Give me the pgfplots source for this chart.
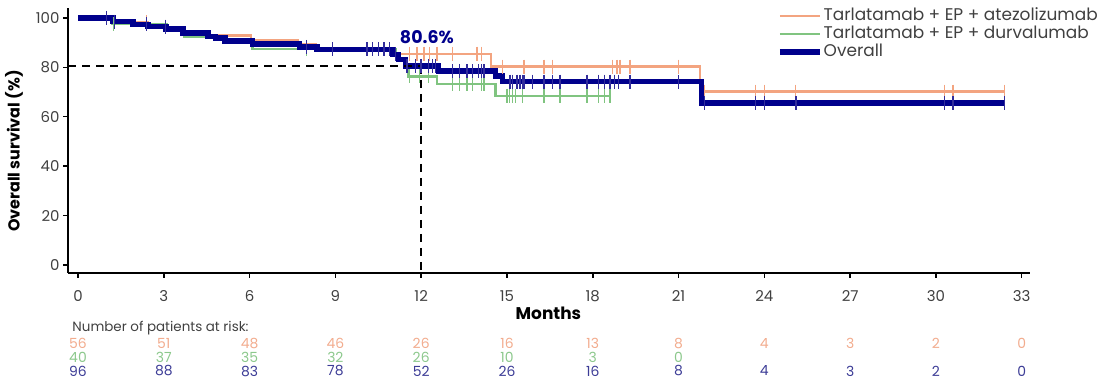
\documentclass[border=0pt]{standalone}
\usepackage{pgfplots}
\pgfplotsset{compat=1.18}
\usepackage{fontspec}
\setmainfont{Poppins}
\newfontfamily\legfont{Poppins}
\definecolor{cO}{RGB}{243,164,128}
\definecolor{cG}{RGB}{128,196,128}
\definecolor{cB}{RGB}{0,0,140}
\definecolor{cBt}{RGB}{50,45,155}
\definecolor{rO}{RGB}{242,172,142}
\definecolor{rG}{RGB}{140,200,140}
\definecolor{rB}{RGB}{60,60,150}
\definecolor{tk}{RGB}{64,64,64}
\begin{document}
\begin{tikzpicture}
\useasboundingbox (0,0) rectangle (1100bp,381bp);
\begin{axis}[
  at={(68bp,108bp)}, anchor=south west,
  scale only axis, width=962bp, height=265bp,
  xmin=-0.35, xmax=33.29, ymin=-3.24, ymax=104,
  axis x line=bottom, axis y line=left,
  axis line style={line width=1.8bp,-},
  xtick={0,3,...,33}, ytick={0,20,...,100},
  tick align=outside, major tick length=5bp,
  tick style={line width=1.5bp,black},
  ticklabel style={font=\fontsize{15}{15}\selectfont, text=tk},
  xticklabel style={yshift=-9bp},
  /pgf/number format/assume math mode=true,
  clip=false,
  legend style={at={(rel axis cs:0.737,1.004)}, anchor=north west, draw=none, fill=none,
    inner sep=0pt, font=\legfont\fontsize{17}{18}\selectfont, text=tk, row sep=0bp,
    nodes={inner sep=1bp, text height=12bp, text depth=4bp}},
  legend cell align=left,
  legend image code/.code={\draw[#1] (0bp,0bp) -- (40bp,0bp);},
]
% orange
\addplot[const plot, color=cO, line width=2.3bp] coordinates {
(0,100) (1.2,98.2) (2.45,96.4) (3.7,94.6) (4.55,92.9) (6.05,91.0) (7.7,89.2) (8.3,87.4)
(10.9,85.5) (14.45,80.3) (21.75,70.2) (32.4,70.2)};
\addlegendentry{Tarlatamab + EP + atezolizumab}
% green
\addplot[const plot, color=cG, line width=2.3bp] coordinates {
(0,100) (1.2,97.5) (3.1,95.0) (3.7,92.5) (5.15,90.0) (6.1,87.5) (11.1,85.0) (11.25,82.5)
(11.4,80.0) (11.55,76.3) (12.55,73.3) (14.6,68.5) (18.6,68.5)};
\addlegendentry{Tarlatamab + EP + durvalumab}
% overall
\addplot[const plot, color=cB, line width=5.5bp] coordinates {
(0,100) (1.22,98.5) (1.92,97.4) (2.45,96.5) (3.08,95.5) (3.67,93.8) (4.55,92.4) (4.8,91.8)
(5.14,90.7) (6.1,89.4) (7.75,88.3) (8.35,87.3) (11.0,85.2) (11.2,83.1) (11.45,80.6)
(12.6,78.5) (14.6,76.4) (14.85,74.2) (21.8,65.5) (32.4,65.5)};
\addlegendentry{Overall}
% censor marks
\addplot[forget plot, only marks, mark=|, mark size=7bp, mark options={color=cO, line width=1.3bp}] coordinates {
(1.0,100) (2.4,98.2) (3.05,96.4)
(11.6,85.5) (11.85,85.5) (12.1,85.5) (12.3,85.5) (12.55,85.5) (13.1,85.5) (13.95,85.5) (14.1,85.5)
(14.85,80.3) (15.6,80.3) (16.3,80.3) (16.6,80.3) (18.7,80.3) (18.85,80.3) (18.95,80.3) (19.3,80.3) (21.0,80.3)
(21.9,70.2) (23.7,70.2) (24.0,70.2) (25.1,70.2) (30.3,70.2) (30.6,70.2) (32.4,70.2)};
\addplot[forget plot, only marks, mark=|, mark size=7bp, mark options={color=cG, line width=1.3bp}] coordinates {
(1.25,97.5) (8.0,87.5)
(11.6,76.3) (11.95,76.3) (12.25,76.3)
(13.1,73.3) (13.35,73.3) (13.6,73.3) (13.8,73.3) (14.1,73.3) (14.2,73.3)
(15.0,68.5) (15.1,68.5) (15.2,68.5) (15.3,68.5) (15.55,68.5) (16.3,68.5) (16.85,68.5) (17.8,68.5) (18.2,68.5) (18.4,68.5) (18.6,68.5)};
\addplot[forget plot, only marks, mark=|, mark size=7bp, mark options={color=cBt, line width=1.4bp}] coordinates {
(1.0,100) (1.27,98.5) (2.4,97.4) (3.05,96.5) (8.0,88.3) (8.9,87.3)
(10.1,87.3) (10.3,87.3) (10.5,87.3) (10.7,87.3) (10.9,87.3) (11.1,85.2)
(11.5,80.6) (11.8,80.6) (12.0,80.6) (12.25,80.6) (12.4,80.6) (12.5,80.6)
(13.1,78.5) (13.35,78.5) (13.6,78.5) (13.8,78.5) (14.0,78.5) (14.1,78.5) (14.2,78.5)
(15.1,74.2) (15.2,74.2) (15.35,74.2) (15.45,74.2) (15.55,74.2) (15.6,74.2) (15.9,74.2) (16.3,74.2) (16.6,74.2) (16.85,74.2)
(17.8,74.2) (18.2,74.2) (18.4,74.2) (18.6,74.2) (18.75,74.2) (18.9,74.2) (19.3,74.2) (21.0,74.2)
(21.9,65.5) (23.7,65.5) (24.0,65.5) (25.1,65.5) (30.3,65.5) (30.6,65.5) (32.4,65.5)};
% dashed reference lines
\addplot[forget plot, black, line width=2bp, dash pattern=on 8bp off 6bp] coordinates {(-0.35,80.6) (12,80.6)};
\addplot[forget plot, black, line width=2bp, dash pattern=on 8bp off 6bp] coordinates {(12,80.6) (12,-3.24)};
\node[font=\fontsize{17.5}{17.5}\selectfont\bfseries, text=cB] at (axis cs:12.2,92.3) {80.6\%};
% risk table
\addplot[forget plot, draw=none, point meta=explicit symbolic, nodes near coords={\pgfplotspointmeta},
  nodes near coords align={center}, every node near coord/.append style={font=\fontsize{14}{14}\selectfont, text=rO, inner sep=0pt}]
  table[meta=n] {
x y n
0 -31.6 56
3 -31.6 51
6 -31.6 48
9 -31.6 46
12 -31.6 26
15 -31.6 16
18 -31.6 13
21 -31.6 8
24 -31.6 4
27 -31.6 3
30 -31.6 2
33 -31.6 0
};
\addplot[forget plot, draw=none, point meta=explicit symbolic, nodes near coords={\pgfplotspointmeta},
  nodes near coords align={center}, every node near coord/.append style={font=\fontsize{14}{14}\selectfont, text=rG, inner sep=0pt}]
  table[meta=n] {
x y n
0 -37.2 40
3 -37.2 37
6 -37.2 35
9 -37.2 32
12 -37.2 26
15 -37.2 10
18 -37.2 3
21 -37.2 0
};
\addplot[forget plot, draw=none, point meta=explicit symbolic, nodes near coords={\pgfplotspointmeta},
  nodes near coords align={center}, every node near coord/.append style={font=\fontsize{14}{14}\selectfont, text=rB, inner sep=0pt}]
  table[meta=n] {
x y n
0 -42.9 96
3 -42.9 88
6 -42.9 83
9 -42.9 78
12 -42.9 52
15 -42.9 26
18 -42.9 16
21 -42.9 8
24 -42.9 4
27 -42.9 3
30 -42.9 2
33 -42.9 0
};
\node[anchor=west, font=\fontsize{13.5}{13.5}\selectfont, text=tk, inner sep=0pt] at (axis cs:-0.2,-25.5) {Number of patients at risk:};
\node[font=\fontsize{17}{17}\selectfont\bfseries] at (axis cs:16.45,-19.4) {Months};
\end{axis}
\node[rotate=90, font=\fontsize{16}{16}\selectfont\bfseries] at (14bp,230bp) {Overall survival (\%)};
\end{tikzpicture}
\end{document}
